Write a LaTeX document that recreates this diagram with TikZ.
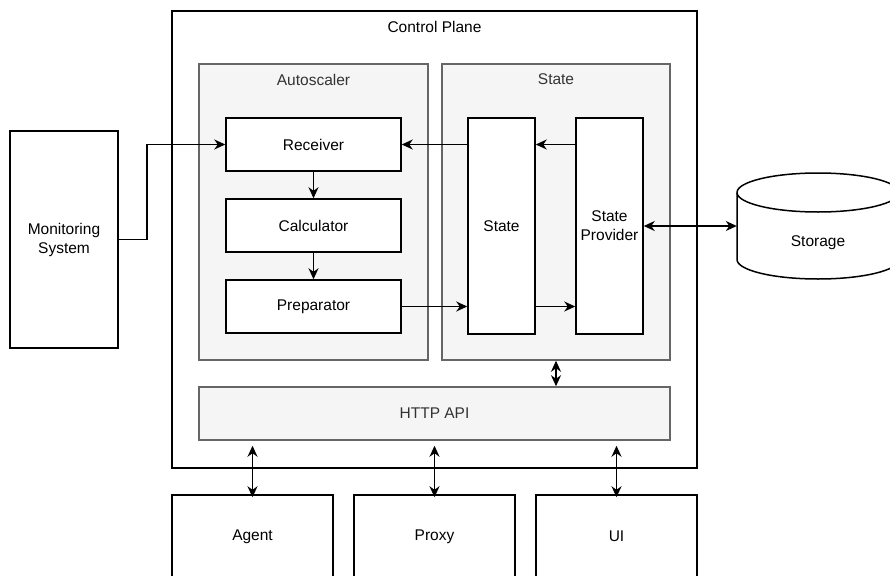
\documentclass[tikz,border=0pt]{standalone}
\usepackage{fontspec}
\setmainfont{Liberation Sans}
\usetikzlibrary{arrows.meta}
\definecolor{grpfill}{HTML}{F5F5F5}
\definecolor{grpline}{HTML}{666666}
\definecolor{grptext}{HTML}{333333}
\begin{document}
\begin{tikzpicture}[x=1pt,y=-1pt,
  every node/.style={font=\fontsize{15.5}{19}\selectfont},
  box/.style={draw=black,line width=1.5pt,fill=white,rectangle,align=center,inner sep=0pt},
  grp/.style={draw=grpline,line width=1.5pt,fill=grpfill,rectangle,inner sep=0pt},
  grptitle/.style={text=grptext,anchor=north,yshift=-7pt},
  tip/.style={Stealth[length=11pt,width=10pt,inset=3.5pt]},
  arr/.style={line width=1.5pt,-{Stealth[length=11pt,width=10pt,inset=3.5pt]}},
  biarr/.style={line width=1.5pt,{Stealth[length=11pt,width=10pt,inset=3.5pt]}-{Stealth[length=11pt,width=10pt,inset=3.5pt]}}]
\useasboundingbox (0,0) rectangle (890,575);
\begin{scope}
\clip (0,0) rectangle (890,575);

% control plane frame and its groups
\node[box,minimum width=525pt,minimum height=457pt,
  label={[text=black,anchor=north,yshift=-7pt]north:Control Plane}] (cp) at (434.5,239.5) {};
\node[grp,minimum width=229pt,minimum height=296pt,
  label={[grptitle]north:Autoscaler}] (asg) at (313.5,212) {};
\node[grp,minimum width=228pt,minimum height=296pt,
  label={[grptitle]north:State}] (stg) at (556,212) {};
\node[grp,minimum width=471pt,minimum height=53pt,text=grptext] (http) at (434.5,413.5) {HTTP API};

% autoscaler components
\node[box,minimum width=175pt,minimum height=53pt] (recv) at (313.5,144.5) {Receiver};
\node[box,minimum width=175pt,minimum height=53pt] (calc) at (313.5,225.5) {Calculator};
\node[box,minimum width=175pt,minimum height=53pt] (prep) at (313.5,306.5) {Preparator};

% state components
\node[box,minimum width=67pt,minimum height=216pt] (state) at (501.5,226) {State};
\node[box,minimum width=67pt,minimum height=216pt] (sprov) at (609.5,226) {State\\Provider};

% external systems
\node[box,minimum width=108pt,minimum height=217pt] (mon) at (64,239.5) {Monitoring\\System};
\node[box,minimum width=161pt,minimum height=83pt] (agent) at (252.5,536.5) {Agent};
\node[box,minimum width=161pt,minimum height=83pt] (proxy) at (434.5,536.5) {Proxy};
\node[box,minimum width=161pt,minimum height=83pt] (ui) at (616.5,536.5) {UI};

% storage cylinder
\node[rectangle,inner sep=0pt,minimum width=162pt,minimum height=106pt] (storage) at (818,226) {};
\draw[line width=1.5pt,fill=white] (737,192.5) -- (737,259.5)
  arc[start angle=180,end angle=360,x radius=81pt,y radius=19.5pt] -- (899,192.5)
  arc[start angle=0,end angle=180,x radius=81pt,y radius=19.5pt] -- cycle;
\draw[line width=1.5pt] (737,192.5) arc[start angle=180,end angle=360,x radius=81pt,y radius=19.5pt];
\node at (818,243) {Storage};

% data flow
\draw[arr] (mon.east) -- ++(28,0) |- (recv.west);
\draw[arr] (recv) -- (calc);
\draw[arr] (calc) -- (prep);
\draw[arr] (state.west |- recv.east) -- (recv.east);
\draw[arr] (sprov.west |- recv.east) -- (state.east |- recv.east);
\draw[arr] (prep.east) -- (state.west |- prep.east);
\draw[arr] (state.east |- prep.east) -- (sprov.west |- prep.east);
\draw[biarr] (sprov.east) -- (storage.west);
\draw[biarr] (stg.south) -- (stg.south |- http.north);
\draw[biarr] ([yshift=-5pt]http.south -| agent.north) -- ([yshift=-3pt]agent.north);
\draw[biarr] ([yshift=-5pt]http.south -| proxy.north) -- ([yshift=-3pt]proxy.north);
\draw[biarr] ([yshift=-5pt]http.south -| ui.north) -- ([yshift=-3pt]ui.north);
\end{scope}
\end{tikzpicture}
\end{document}
